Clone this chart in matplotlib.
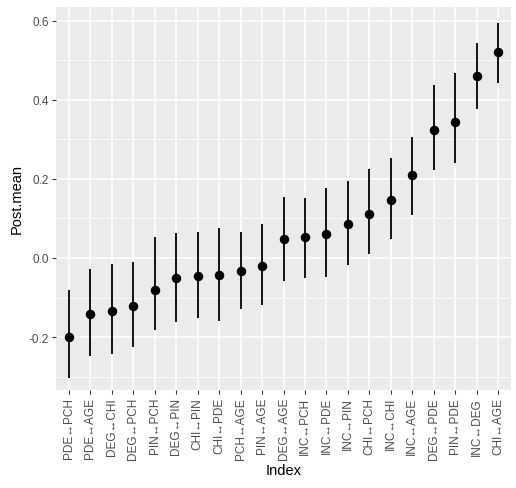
import matplotlib
matplotlib.use("Agg")
import matplotlib.pyplot as plt
from matplotlib.ticker import MultipleLocator

plt.rcParams['font.family'] = ['Liberation Sans', 'DejaVu Sans']

# paires et estimations a posteriori (moyenne, bornes de l'intervalle)
labels = ["PDE↔PCH", "PDE↔AGE", "DEG↔CHI", "DEG↔PCH", "PIN↔PCH", "DEG↔PIN",
          "CHI↔PIN", "CHI↔PDE", "PCH↔AGE", "PIN↔AGE", "DEG↔AGE", "INC↔PCH",
          "INC↔PDE", "INC↔PIN", "CHI↔PCH", "INC↔CHI", "INC↔AGE", "DEG↔PDE",
          "PIN↔PDE", "INC↔DEG", "CHI↔AGE"]
post_mean = [-0.200, -0.141, -0.134, -0.121, -0.081, -0.050, -0.045, -0.043,
             -0.032, -0.020, 0.047, 0.052, 0.061, 0.087, 0.112, 0.147, 0.211,
             0.325, 0.345, 0.461, 0.521]
lower = [-0.303, -0.248, -0.242, -0.226, -0.183, -0.163, -0.152, -0.160,
         -0.130, -0.120, -0.059, -0.051, -0.048, -0.018, 0.010, 0.048, 0.108,
         0.222, 0.240, 0.377, 0.443]
upper = [-0.082, -0.029, -0.016, -0.011, 0.052, 0.062, 0.067, 0.077,
         0.065, 0.085, 0.155, 0.151, 0.176, 0.196, 0.224, 0.252, 0.305,
         0.437, 0.468, 0.543, 0.594]

x = list(range(len(labels)))

fig = plt.figure(figsize=(5.16, 4.89), dpi=100)
ax = fig.add_axes([56 / 516, 98 / 489, 455 / 516, 383 / 489])
ax.set_facecolor('#EBEBEB')

ax.vlines(x, lower, upper, color='black', linewidth=1.3, zorder=3)
ax.scatter(x, post_mean, s=34, color='black', zorder=4)

ax.set_xlim(-0.6, len(labels) - 0.4)
ax.set_ylim(-0.334, 0.635)

ax.yaxis.set_major_locator(MultipleLocator(0.2))
ax.yaxis.set_minor_locator(MultipleLocator(0.1))
ax.set_xticks(x)
ax.set_xticklabels(labels, rotation=90)
ax.set_yticklabels([f"{v:.1f}" for v in ax.get_yticks()])

ax.grid(which='major', color='white', linewidth=1.1, zorder=0)
ax.grid(which='minor', axis='y', color='white', linewidth=0.55, zorder=0)
ax.set_axisbelow(True)
for s in ax.spines.values():
    s.set_visible(False)

ax.tick_params(axis='both', which='major', length=3, width=0.8, color='#333333',
               labelcolor='#4D4D4D', labelsize=8.5, pad=2)
ax.tick_params(axis='y', which='minor', length=0)

ax.set_xlabel('Index', fontsize=10.5, labelpad=3)
ax.set_ylabel('Post.mean', fontsize=10.5, labelpad=4)

fig.savefig('out.png', dpi=100)
